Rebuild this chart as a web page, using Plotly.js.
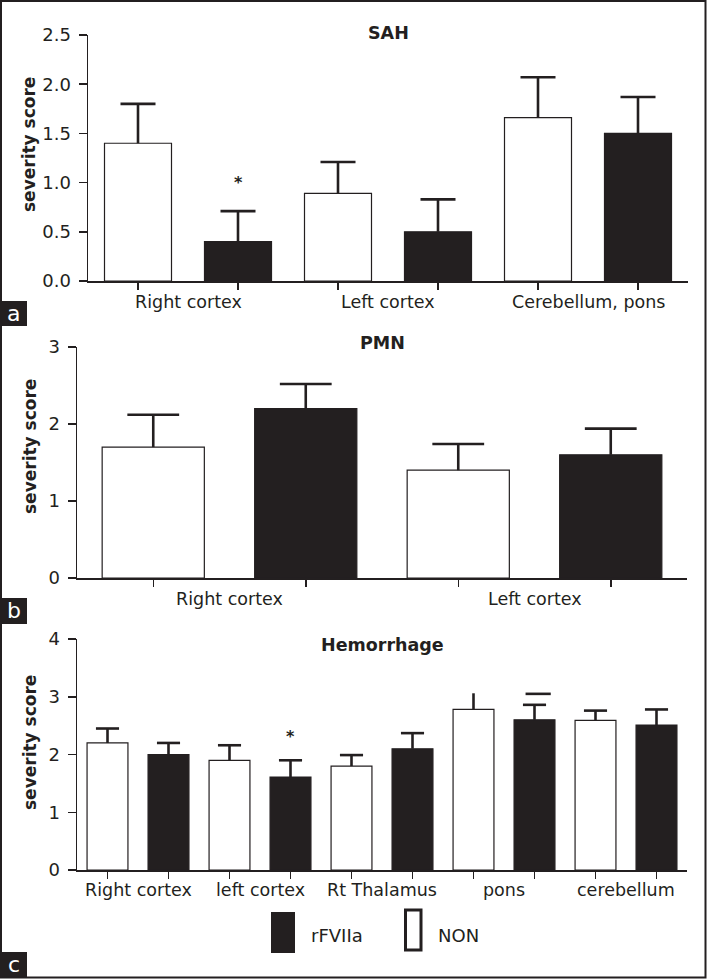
<!DOCTYPE html>
<html><head><meta charset="utf-8">
<script src="https://cdn.plot.ly/plotly-3.0.1.min.js"></script>
<style>html,body{margin:0;padding:0;background:#fff}#chart{width:707px;height:979px}</style>
</head><body><div id="chart"></div>
<script>
// ---------- data ----------
const seriesNames = ['rFVIIa', 'NON'];

const sahCategories = ['Right cortex', 'Left cortex', 'Cerebellum, pons'];
const sahNON = [1.40, 0.89, 1.66];
const sahNONErr = [0.40, 0.32, 0.41];
const sahRF = [0.40, 0.50, 1.50];
const sahRFErr = [0.31, 0.33, 0.37];
const sahStarCategory = 0;   // * above rFVIIa, Right cortex
const sahStarValue = 1.0;

const pmnCategories = ['Right cortex', 'Left cortex'];
const pmnNON = [1.70, 1.40];
const pmnNONErr = [0.42, 0.34];
const pmnRF = [2.20, 1.60];
const pmnRFErr = [0.32, 0.34];

const hemCategories = ['Right cortex', 'left cortex', 'Rt Thalamus', 'pons', 'cerebellum'];
const hemNON = [2.20, 1.90, 1.80, 2.78, 2.59];
const hemNONErr = [0.25, 0.26, 0.19, 0.28, 0.17];
const hemNONCapless = [false, false, false, true, false]; // pons NON bar drawn without cap
const hemRF = [2.00, 1.61, 2.10, 2.60, 2.51];
const hemRFErr = [0.20, 0.29, 0.27, 0.26, 0.27];
const hemStrayCapCategory = 3;   // detached cap drawn above rFVIIa pons
const hemStrayCapValue = 3.05;
const hemStarCategory = 1;   // * above rFVIIa, left cortex
const hemStarValue = 2.31;

const panelTitles = ['SAH', 'PMN', 'Hemorrhage'];
const panelLetters = ['a', 'b', 'c'];
const yTitle = 'severity score';

// ---------- layout helpers ----------
const W = 707, H = 979;
const px = x => x / W;
const py = y => 1 - y / H;
const INK = '#231f20';
const FONT = 'DejaVu Sans, Liberation Sans, Arial, sans-serif';

const panels = [
  {cats: sahCategories, non: sahNON, nonErr: sahNONErr, rf: sahRF, rfErr: sahRFErr,
   xDom: [88, 688], yTop: 35, yBot: 281, yMax: 2.5, dtick: 0.5, fmt: '.1f',
   capSize: 25, tickSize: 18, titleY: 33, labelY: 302, yTitleX: 29, yTitleY: 145, letterY: [301, 326]},
  {cats: pmnCategories, non: pmnNON, nonErr: pmnNONErr, rf: pmnRF, rfErr: pmnRFErr,
   xDom: [77, 687], yTop: 347, yBot: 578, yMax: 3, dtick: 1, fmt: 'd',
   capSize: 37, tickSize: 18, titleY: 343, labelY: 599, yTitleX: 30, yTitleY: 447, letterY: [598, 624]},
  {cats: hemCategories, non: hemNON, nonErr: hemNONErr, rf: hemRF, rfErr: hemRFErr,
   xDom: [77, 687], yTop: 639, yBot: 870, yMax: 4, dtick: 1, fmt: 'd',
   capSize: 16.5, tickSize: 18, titleY: 645, labelY: 890, yTitleX: 30, yTitleY: 743, letterY: [952, 977]}
];

const traces = [];
const annotations = [];
const shapes = [];
const layout = {
  width: W, height: H,
  margin: {l: 0, r: 0, t: 0, b: 0},
  paper_bgcolor: '#fff', plot_bgcolor: 'rgba(0,0,0,0)',
  showlegend: false, barmode: 'overlay',
  font: {family: FONT, color: INK}
};

function capTrace(xa, ya, xs, tops, size) {
  return {type: 'scatter', mode: 'markers', xaxis: xa, yaxis: ya, x: xs, y: tops,
    marker: {symbol: 'line-ew', size: size, color: INK, line: {color: INK, width: 2.6}},
    hoverinfo: 'skip', cliponaxis: false};
}

panels.forEach((p, k) => {
  const n = p.cats.length;
  const xs = k === 0 ? '' : String(k + 1);
  const xa = 'x' + xs, ya = 'y' + xs;
  const nonX = p.cats.map((c, i) => 2 * i);
  const rfX = p.cats.map((c, i) => 2 * i + 1);
  const capless = k === 2 ? hemNONCapless : p.cats.map(() => false);
  const stem = errs => ({type: 'data', symmetric: false, array: errs,
    arrayminus: errs.map(() => 0), color: INK, thickness: 2.6, width: 0});

  traces.push({
    type: 'bar', name: seriesNames[1], x: nonX, y: p.non, width: 0.67,
    xaxis: xa, yaxis: ya,
    marker: {color: '#ffffff', line: {color: INK, width: 1.2}},
    error_y: stem(p.nonErr), hoverinfo: 'skip'
  });
  traces.push({
    type: 'bar', name: seriesNames[0], x: rfX, y: p.rf, width: 0.67,
    xaxis: xa, yaxis: ya,
    marker: {color: INK, line: {color: INK, width: 1.2}},
    error_y: stem(p.rfErr), hoverinfo: 'skip'
  });
  // error-bar caps (upper end only)
  traces.push(capTrace(xa, ya, nonX.filter((v, i) => !capless[i]),
    p.non.map((v, i) => v + p.nonErr[i]).filter((v, i) => !capless[i]), p.capSize));
  traces.push(capTrace(xa, ya, rfX, p.rf.map((v, i) => v + p.rfErr[i]), p.capSize));

  layout['xaxis' + xs] = {
    domain: [px(p.xDom[0]), px(p.xDom[1])], anchor: ya,
    range: [-0.5, 2 * n - 0.5], fixedrange: true,
    showline: true, linecolor: INK, linewidth: 1.5,
    ticks: 'outside', ticklen: 7, tickwidth: 1.5, tickcolor: INK,
    tickvals: nonX.concat(rfX), ticktext: nonX.concat(rfX).map(() => ''),
    showticklabels: false, showgrid: false, zeroline: false
  };
  layout['yaxis' + xs] = {
    domain: [py(p.yBot), py(p.yTop)], anchor: xa,
    range: [0, p.yMax], fixedrange: true,
    showline: true, linecolor: INK, linewidth: 1.5,
    ticks: 'outside', ticklen: 8, tickwidth: 1.5, tickcolor: INK,
    ticklabelstandoff: 4,
    dtick: p.dtick, tick0: 0, tickformat: p.fmt,
    tickfont: {family: FONT, size: p.tickSize, color: INK},
    showgrid: false, zeroline: false
  };

  // group labels under each pair of bars
  p.cats.forEach((c, i) => {
    annotations.push({xref: xa, yref: 'paper', x: 2 * i + 0.5, y: py(p.labelY),
      text: c, showarrow: false, xanchor: 'center', yanchor: 'middle',
      font: {family: FONT, size: 17.5, color: INK}});
  });
  // panel title
  annotations.push({xref: 'paper', yref: 'paper',
    x: (px(p.xDom[0]) + px(p.xDom[1])) / 2, y: py(p.titleY),
    text: '<b>' + panelTitles[k] + '</b>', showarrow: false,
    xanchor: 'center', yanchor: 'middle', font: {family: FONT, size: 17.5, color: INK}});
  // y axis title
  annotations.push({xref: 'paper', yref: 'paper', x: px(p.yTitleX),
    y: py(p.yTitleY), text: '<b>' + yTitle + '</b>', textangle: -90,
    showarrow: false, xanchor: 'center', yanchor: 'middle',
    font: {family: FONT, size: 17, color: INK}});
  // panel letter box
  shapes.push({type: 'rect', xref: 'paper', yref: 'paper', x0: 0, x1: px(27),
    y0: py(p.letterY[1]), y1: py(p.letterY[0]), fillcolor: INK, line: {width: 0}});
  annotations.push({xref: 'paper', yref: 'paper', x: px(13.5),
    y: (py(p.letterY[0]) + py(p.letterY[1])) / 2, text: panelLetters[k],
    showarrow: false, xanchor: 'center', yanchor: 'middle',
    font: {family: FONT, size: 22, color: '#ffffff'}});
});

// significance stars
annotations.push({xref: 'x', yref: 'y', x: 2 * sahStarCategory + 1, y: sahStarValue,
  text: '<b>*</b>', showarrow: false, xanchor: 'center', yanchor: 'middle',
  font: {family: FONT, size: 16, color: INK}});
annotations.push({xref: 'x3', yref: 'y3', x: 2 * hemStarCategory + 1, y: hemStarValue,
  text: '<b>*</b>', showarrow: false, xanchor: 'center', yanchor: 'middle',
  font: {family: FONT, size: 16, color: INK}});

// detached cap above rFVIIa pons
traces.push(capTrace('x3', 'y3', [2 * hemStrayCapCategory + 1.06], [hemStrayCapValue], 18));

// legend (drawn manually, tall swatches as in the figure)
shapes.push({type: 'rect', xref: 'paper', yref: 'paper', x0: px(271), x1: px(295),
  y0: py(953), y1: py(912), fillcolor: INK, line: {width: 0}});
annotations.push({xref: 'paper', yref: 'paper', x: px(309), y: py(935),
  text: seriesNames[0], showarrow: false, xanchor: 'left', yanchor: 'middle',
  font: {family: FONT, size: 18, color: INK}});
shapes.push({type: 'rect', xref: 'paper', yref: 'paper', x0: px(405.5), x1: px(421),
  y0: py(950), y1: py(910), fillcolor: '#fff', line: {color: INK, width: 3}});
annotations.push({xref: 'paper', yref: 'paper', x: px(436), y: py(935),
  text: seriesNames[1], showarrow: false, xanchor: 'left', yanchor: 'middle',
  font: {family: FONT, size: 18, color: INK}});

// outer frame
shapes.push({type: 'rect', xref: 'paper', yref: 'paper', x0: px(1), x1: px(705.5),
  y0: py(977.5), y1: py(1), line: {color: INK, width: 2}, fillcolor: 'rgba(0,0,0,0)'});

layout.annotations = annotations;
layout.shapes = shapes;
Plotly.newPlot('chart', traces, layout, {displayModeBar: false, staticPlot: true});
</script>
</body></html>
